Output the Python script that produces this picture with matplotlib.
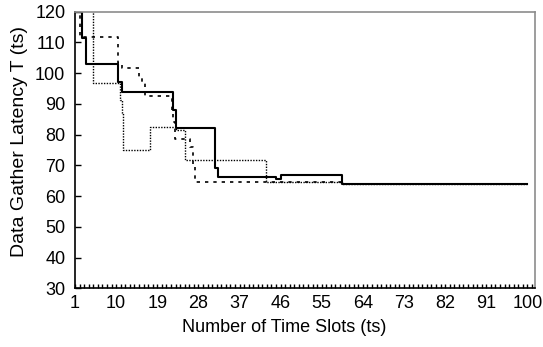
import matplotlib
matplotlib.use("Agg")
import matplotlib.pyplot as plt
from matplotlib.ticker import MultipleLocator, FixedLocator

# Step-function breakpoints (steps-post)
solid_x = [1, 2.5, 3.3, 10.4, 11.2, 22.4, 23.0, 31.6, 32.2, 45.0, 46.1, 59.4, 100]
solid_y = [120, 111.4, 103.0, 97.0, 93.8, 88.0, 82.1, 69.0, 66.2, 65.5, 66.8, 64.0, 64.0]

dashed_x = [1, 2.1, 10.4, 11.3, 15.0, 15.6, 16.3, 22.2, 22.5, 22.8, 26.1, 26.8, 27.2, 59.4, 100]
dashed_y = [120, 111.7, 103.3, 101.7, 98.5, 97.1, 92.6, 88.0, 84.0, 78.5, 76.1, 70.1, 64.5, 64.0, 64.0]

dotted_x = [1, 4.9, 10.8, 11.2, 11.5, 11.9, 17.5, 23.2, 25.0, 42.8, 59.4, 100]
dotted_y = [130, 96.8, 91.3, 87.0, 75.0, 75.0, 82.6, 81.5, 71.7, 64.5, 64.0, 64.0]

xticks = [1, 10, 19, 28, 37, 46, 55, 64, 73, 82, 91, 100]
yticks = [30, 40, 50, 60, 70, 80, 90, 100, 110, 120]

plt.rcParams['font.family'] = ['Liberation Sans', 'DejaVu Sans']

fig = plt.figure(figsize=(5.43, 3.47), dpi=100)
ax = fig.add_axes([75/543, 1-288.3/347, (534.7-75)/543, (288.3-11.7)/347])

ax.plot(dotted_x, dotted_y, drawstyle='steps-post', color='black', lw=1.0,
        linestyle=(0, (1, 1)))
ax.plot(dashed_x, dashed_y, drawstyle='steps-post', color='black', lw=1.2,
        linestyle=(0, (2.0, 3.0)))
ax.plot(solid_x, solid_y, drawstyle='steps-post', color='black', lw=1.5)

ax.set_xlim(1, 101.6)
ax.set_ylim(30, 120)
ax.xaxis.set_major_locator(FixedLocator(xticks))
ax.xaxis.set_minor_locator(MultipleLocator(1))
ax.yaxis.set_major_locator(FixedLocator(yticks))

ax.tick_params(axis='both', which='both', direction='in', top=False, right=False,
               labelsize=13, color='black')
ax.tick_params(axis='x', which='major', length=3, width=1, pad=5)
ax.tick_params(axis='x', which='minor', length=3, width=1)
ax.tick_params(axis='y', which='major', length=4, width=1, pad=7)

for s in ['left', 'bottom']:
    ax.spines[s].set_color('black')
    ax.spines[s].set_linewidth(1.2)
for s in ['top', 'right']:
    ax.spines[s].set_color('#8c8c8c')
    ax.spines[s].set_linewidth(1.2)

ax.set_xlabel('Number of Time Slots (ts)', fontsize=13)
ax.set_ylabel('Data Gather Latency T (ts)', fontsize=14)
ax.xaxis.set_label_coords(0.455, -0.11)
ax.yaxis.set_label_coords(-0.102, 0.53)

fig.savefig('out.png', dpi=100)
